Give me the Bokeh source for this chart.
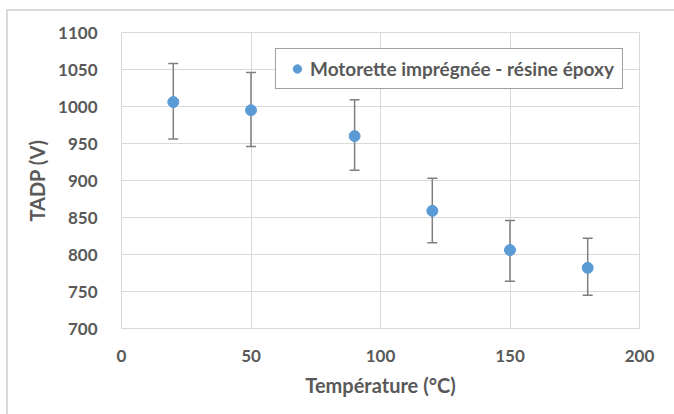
from bokeh.plotting import figure
from bokeh.models import ColumnDataSource, Whisker, TeeHead, FixedTicker, Range1d
from bokeh.embed import file_html
from bokeh.resources import INLINE

temperature = [20, 50, 90, 120, 150, 180]
tadp = [1006, 995, 960, 859, 806, 782]
tadp_upper = [1058, 1046, 1009, 903, 846, 822]
tadp_lower = [956, 946, 914, 816, 764, 745]
x_ticks = [0, 50, 100, 150, 200]
y_ticks = [700, 750, 800, 850, 900, 950, 1000, 1050, 1100]
series_label = "Motorette imprégnée - résine époxy"

FONT = "Lato"
TXT = "#595959"
GRID = "#d9d9d9"

src = ColumnDataSource(dict(x=temperature, y=tadp, up=tadp_upper, lo=tadp_lower))

p = figure(width=674, height=414, output_backend="svg", toolbar_location=None,
           x_range=Range1d(0, 200), y_range=Range1d(700, 1100),
           min_border_left=121, min_border_right=35, min_border_top=32, min_border_bottom=86)
p.background_fill_color = "white"
p.border_fill_alpha = 0
p.outline_line_color = GRID
p.styles = {
    "background-color": "white",
    "background-image": "linear-gradient(#d9d9d9, #d9d9d9), linear-gradient(#d9d9d9, #d9d9d9)",
    "background-size": "100% 2px, 2px 100%",
    "background-position": "6px 9px, 6px 9px",
    "background-repeat": "no-repeat",
}

p.xaxis.ticker = FixedTicker(ticks=x_ticks)
p.yaxis.ticker = FixedTicker(ticks=y_ticks)
for ax in (p.xaxis[0], p.yaxis[0]):
    ax.axis_line_color = GRID
    ax.major_tick_line_color = None
    ax.minor_tick_line_color = None
    ax.major_label_text_font = FONT
    ax.major_label_text_font_style = "bold"
    ax.major_label_text_font_size = "17px"
    ax.major_label_text_color = TXT
    ax.axis_label_text_font = FONT
    ax.axis_label_text_font_style = "bold"
    ax.axis_label_text_color = TXT
    ax.axis_label_text_font_size = "20px"
p.xaxis.axis_label = "Température (°C)"
p.yaxis.axis_label = "TADP (V)"
p.yaxis.major_label_standoff = 18
p.yaxis.axis_label_standoff = 6
p.xaxis.major_label_standoff = 15
p.xaxis.axis_label_standoff = 8

p.xgrid.grid_line_color = GRID
p.ygrid.grid_line_color = GRID

w = Whisker(base="x", upper="up", lower="lo", source=src, dimension="height",
            line_color="#7f7f7f", line_width=1.5,
            upper_head=TeeHead(size=10, line_color="#7f7f7f", line_width=1.5),
            lower_head=TeeHead(size=10, line_color="#7f7f7f", line_width=1.5))
p.add_layout(w)

p.scatter("x", "y", source=src, size=11, color="#5b9bd5", legend_label=series_label)

lg = p.legend[0]
lg.location = "top_right"
lg.margin = 16
lg.padding = 8
lg.spacing = 0
lg.glyph_width = 26
lg.glyph_height = 21
lg.label_height = 21
lg.label_standoff = 0
lg.label_text_font = FONT
lg.label_text_font_style = "bold"
lg.label_text_font_size = "19px"
lg.label_text_color = TXT
lg.border_line_color = "#404040"
lg.border_line_width = 1
lg.background_fill_color = "white"
lg.background_fill_alpha = 1

open("out.html", "w").write(file_html(p, INLINE))
